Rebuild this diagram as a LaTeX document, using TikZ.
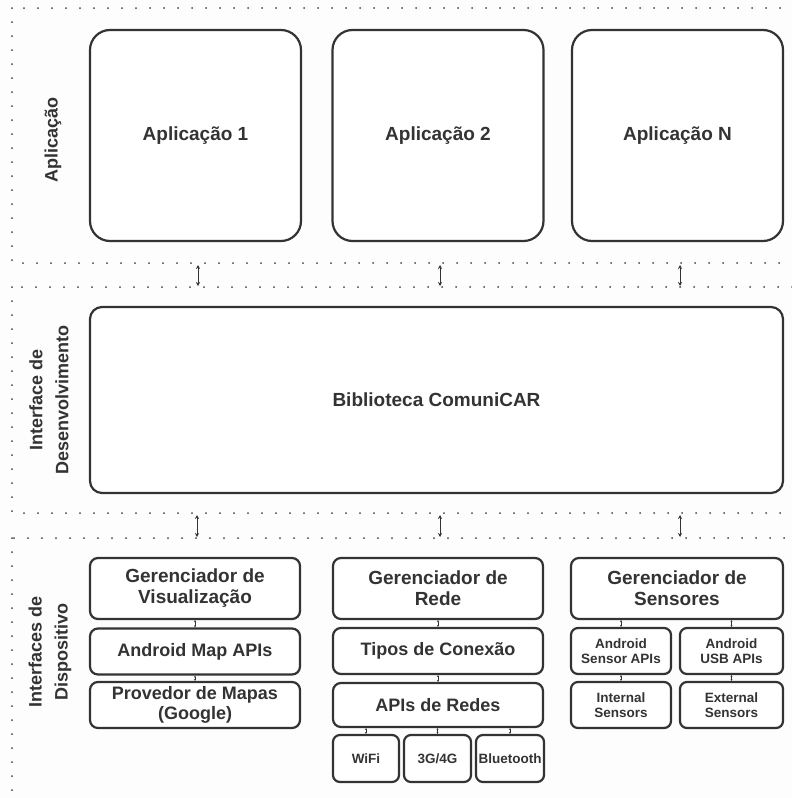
\documentclass[tikz,border=0pt]{standalone}
\usepackage{fontspec}
\setmainfont{Liberation Sans}
\usetikzlibrary{arrows.meta}
\definecolor{ink}{HTML}{333333}
\definecolor{dotc}{HTML}{444444}
\definecolor{paper}{HTML}{FDFDFD}
\begin{document}
\begin{tikzpicture}[x=1pt,y=-1pt,
  txt/.style={text=ink,font=\bfseries},
  box/.style={draw=ink,line width=2.2pt,fill=white,txt,align=center,inner sep=0pt},
  appbox/.style={box,rounded corners=20pt,minimum width=211pt,minimum height=211pt,font=\bfseries\fontsize{19}{21}\selectfont},
  libbox/.style={box,rounded corners=12pt,minimum width=693pt,minimum height=186pt,font=\bfseries\fontsize{19}{21}\selectfont},
  modbox/.style={box,rounded corners=8pt,minimum width=210pt,font=\bfseries\fontsize{19}{21}\selectfont},
  apibox/.style={box,rounded corners=8pt,minimum width=210pt,minimum height=46pt,font=\bfseries\fontsize{18}{20}\selectfont},
  smallbox/.style={box,rounded corners=7pt,minimum height=46pt,font=\bfseries\fontsize{13.5}{15.5}\selectfont},
  layer/.style={draw=dotc,line width=2pt,line cap=round,dash pattern=on 0pt off 14pt},
  sidelabel/.style={txt,rotate=90,align=center,font=\bfseries\fontsize{18}{26}\selectfont},
  bigarrow/.style={draw=ink,line width=0.9pt,{Stealth[length=4pt,width=4pt]}-{Stealth[length=4pt,width=4pt]}},
  tinyarrow/.style={draw=ink,line width=0.5pt,{Stealth[length=2pt,width=2pt]}-{Stealth[length=2pt,width=2pt]}}]

% page and background
\clip (0,0) rectangle (792,798);
\fill[paper] (0,0) rectangle (792,798);

% dotted layer frames
\draw[layer] (12,8) rectangle (820,263);
\draw[layer] (12,287) rectangle (820,513);
\draw[layer] (12,538) rectangle (820,830);

% layer titles
\node[sidelabel] (tApp) at (53,140) {Aplicação};
\node[sidelabel] (tDev) at (49,400) {Interface de\\Desenvolvimento};
\node[sidelabel] (tDisp) at (50,652) {Interfaces de\\Dispositivo};

% application layer
\node[appbox] (app1) at (195.5,135.5) {Aplicação 1};
\node[appbox] (app2) at (438,135.5) {Aplicação 2};
\node[appbox] (appN) at (677.5,135.5) {Aplicação N};

% development interface
\node[libbox] (lib) at (436.5,400) {Biblioteca ComuniCAR};

% device interfaces: visualization
\node[modbox,minimum height=61pt] (gv) at (195,588.5) {Gerenciador de\\Visualização};
\node[apibox] (amap) at (195,651.5) {Android Map APIs};
\node[apibox] (prov) at (195,705) {Provedor de Mapas\\(Google)};

% device interfaces: network
\node[modbox,minimum height=61pt] (gr) at (438,588.5) {Gerenciador de\\Rede};
\node[apibox] (tipos) at (438,651) {Tipos de Conexão};
\node[apibox,minimum height=44pt] (apis) at (438,705) {APIs de Redes};
\node[smallbox,minimum width=66pt,minimum height=47pt] (wifi) at (366,758.5) {WiFi};
\node[smallbox,minimum width=67pt,minimum height=47pt] (g34) at (437.5,758.5) {3G/4G};
\node[smallbox,minimum width=68pt,minimum height=47pt] (bt) at (510,758.5) {Bluetooth};

% device interfaces: sensors
\node[modbox,minimum width=212pt,minimum height=61pt] (gs) at (677,588.5) {Gerenciador de\\Sensores};
\node[smallbox,minimum width=100pt] (asens) at (621,651) {Android\\Sensor APIs};
\node[smallbox,minimum width=103pt] (ausb) at (731.5,651) {Android\\USB APIs};
\node[smallbox,minimum width=100pt] (intern) at (621,705) {Internal\\Sensors};
\node[smallbox,minimum width=103pt] (extern) at (731.5,705) {External\\Sensors};

% links between layers
\coordinate (u1) at (198,265);  \coordinate (d1) at (198,286);
\coordinate (u2) at (440,265);  \coordinate (d2) at (440,286);
\coordinate (u3) at (680,265);  \coordinate (d3) at (680,286);
\coordinate (u4) at (197,515);  \coordinate (d4) at (197,537);
\coordinate (u5) at (440,515);  \coordinate (d5) at (440,537);
\coordinate (u6) at (680,515);  \coordinate (d6) at (680,537);
\foreach \i in {1,...,6} {\draw[bigarrow] (u\i) -- (d\i);}

% links inside the device layer
\draw[tinyarrow] (gv.south) -- (amap.north);
\draw[tinyarrow] (amap.south) -- (prov.north);
\draw[tinyarrow] (gr.south) -- (tipos.north);
\draw[tinyarrow] (tipos.south) -- (apis.north);
\draw[tinyarrow] (wifi.north |- apis.south) -- (wifi.north);
\draw[tinyarrow] (g34.north |- apis.south) -- (g34.north);
\draw[tinyarrow] (bt.north |- apis.south) -- (bt.north);
\draw[tinyarrow] (asens.north |- gs.south) -- (asens.north);
\draw[tinyarrow] (ausb.north |- gs.south) -- (ausb.north);
\draw[tinyarrow] (asens.south) -- (intern.north);
\draw[tinyarrow] (ausb.south) -- (extern.north);
\end{tikzpicture}
\end{document}
